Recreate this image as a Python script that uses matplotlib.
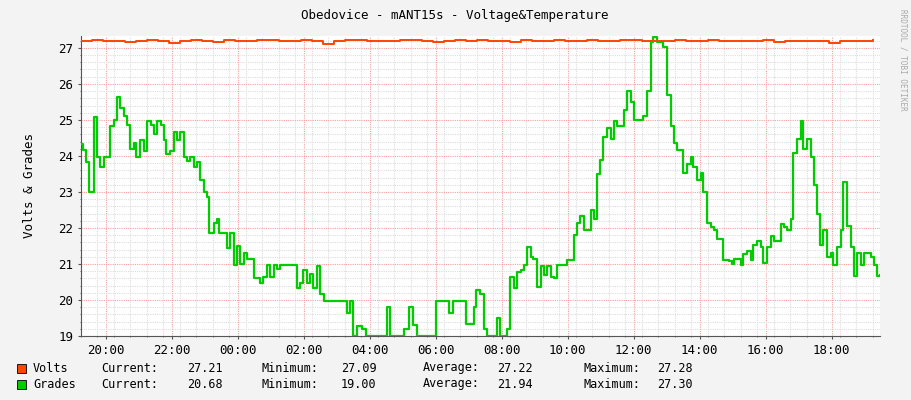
import matplotlib.pyplot as plt
from matplotlib.ticker import MultipleLocator, FixedLocator

# Minutes since 19:15 where each step starts, and the temperature ("Grades") value
grades_t = [0, 4, 9, 15, 24, 29, 35, 42, 53, 60, 65, 71, 78, 84, 89, 96, 100, 107, 115, 120,
            127, 133, 138, 145, 151, 155, 162, 169, 175, 180, 187, 193, 198, 205, 211, 216, 224,
            229, 233, 242, 247, 251, 265, 271, 278, 284, 289, 296, 302, 315, 325, 331, 338, 344,
            351, 356, 362, 393, 398, 404, 411, 416, 422, 429, 435, 442, 484, 489, 495, 502, 511,
            518, 556, 562, 587, 596, 604, 611, 645, 669, 676, 700, 714, 718, 725, 733, 738, 756,
            762, 774, 780, 787, 793, 800, 805, 811, 818, 822, 829, 836, 842, 847, 855, 860, 865,
            884, 889, 896, 902, 907, 915, 927, 933, 938, 944, 949, 956, 964, 969, 974, 987, 993,
            1000, 1005, 1022, 1029, 1036, 1040, 1047, 1058, 1065, 1073, 1078, 1084, 1094, 1102,
            1109, 1113, 1120, 1127, 1131, 1138, 1145, 1151, 1156, 1167, 1178, 1184, 1187, 1200,
            1204, 1211, 1218, 1222, 1229, 1236, 1240, 1247, 1254, 1260, 1273, 1278, 1284, 1291,
            1294, 1302, 1309, 1313, 1320, 1327, 1333, 1338, 1344, 1349, 1356, 1364, 1367, 1374,
            1382, 1385, 1393, 1400, 1405, 1411, 1418, 1424, 1436, 1442, 1447, 1453]
grades_v = [24.34, 24.17, 23.83, 23.0, 25.07, 23.98, 23.68, 23.97, 24.82, 25.0, 25.65, 25.32,
            25.1, 24.85, 24.2, 24.35, 23.98, 24.43, 24.15, 24.98, 24.85, 24.62, 24.98, 24.85,
            24.43, 24.06, 24.15, 24.66, 24.43, 24.66, 23.98, 23.86, 23.98, 23.7, 23.83, 23.32,
            23.0, 22.86, 21.85, 22.15, 22.26, 21.87, 21.43, 21.87, 20.97, 21.5, 21.0, 21.31,
            21.15, 20.6, 20.48, 20.64, 20.97, 20.64, 20.97, 20.87, 20.97, 20.32, 20.48, 20.82,
            20.48, 20.73, 20.32, 20.94, 20.18, 19.98, 19.65, 19.98, 19.0, 19.28, 19.2, 19.0,
            19.81, 19.0, 19.2, 19.8, 19.3, 19.0, 19.98, 19.65, 19.98, 19.33, 19.8, 20.29, 20.18,
            19.2, 19.0, 19.49, 19.0, 19.2, 20.64, 20.32, 20.78, 20.82, 20.97, 21.46, 21.2, 21.15,
            20.35, 20.94, 20.69, 20.94, 20.64, 20.6, 20.97, 21.12, 21.1, 21.8, 22.15, 22.32,
            21.95, 22.49, 22.26, 23.49, 23.89, 24.52, 24.78, 24.48, 24.98, 24.82, 25.28, 25.81,
            25.49, 25.0, 25.1, 25.81, 27.15, 27.3, 27.15, 27.03, 25.68, 24.82, 24.36, 24.17,
            23.52, 23.78, 23.98, 23.68, 23.32, 23.52, 23.0, 22.15, 22.04, 21.95, 21.68, 21.12,
            21.08, 21.0, 21.13, 20.97, 21.29, 21.37, 21.1, 21.52, 21.64, 21.46, 21.03, 21.48,
            21.77, 21.64, 22.12, 22.04, 21.95, 22.26, 24.08, 24.48, 24.98, 24.2, 24.48, 23.98,
            23.18, 22.38, 21.52, 21.93, 21.2, 21.31, 20.97, 21.46, 21.93, 23.27, 22.05, 21.48,
            20.67, 21.31, 20.97, 21.31, 21.2, 20.97, 20.67, 20.68]

# Voltage samples, one every 20 minutes from 19:15
volts_v = [27.2, 27.21, 27.18, 27.2, 27.15, 27.2, 27.22, 27.19, 27.13, 27.2, 27.21, 27.2,
           27.16, 27.22, 27.2, 27.19, 27.22, 27.21, 27.2, 27.18, 27.22, 27.2, 27.12, 27.2,
           27.21, 27.22, 27.2, 27.2, 27.18, 27.21, 27.22, 27.2, 27.17, 27.2, 27.21, 27.2,
           27.22, 27.19, 27.2, 27.16, 27.21, 27.2, 27.18, 27.22, 27.19, 27.2, 27.21, 27.2,
           27.2, 27.22, 27.21, 27.2, 27.18, 27.2, 27.21, 27.2, 27.18, 27.22, 27.2, 27.19,
           27.2, 27.2, 27.21, 27.17, 27.2, 27.18, 27.2, 27.2, 27.14, 27.2, 27.19, 27.2, 27.21]
volts_t = [i * 20 for i in range(len(volts_v))]

tick_labels = ["20:00", "22:00", "00:00", "02:00", "04:00", "06:00", "08:00",
               "10:00", "12:00", "14:00", "16:00", "18:00"]
tick_pos = [45 + 120 * i for i in range(len(tick_labels))]

legend_rows = [
    ("Volts", "#FF4500", "27.21", "27.09", "27.22", "27.28"),
    ("Grades", "#00CC00", "20.68", "19.00", "21.94", "27.30"),
]

mono = "DejaVu Sans Mono"
fs = 8.5
fig = plt.figure(figsize=(9.11, 4.0), dpi=100, facecolor="#F3F3F3")
ax = fig.add_axes([81 / 911, 64 / 400, 799 / 911, 300 / 400], facecolor="white")

ax.step(grades_t, grades_v, where="post", color="#00CC00", lw=1.6, zorder=3)
ax.step(volts_t, volts_v, where="post", color="#FF4500", lw=1.4, zorder=3)

ax.set_xlim(0, 1453)
ax.set_ylim(19, 27.33)
ax.xaxis.set_major_locator(FixedLocator(tick_pos))
ax.set_xticklabels(tick_labels)
ax.xaxis.set_minor_locator(MultipleLocator(30))
ax.yaxis.set_major_locator(MultipleLocator(1))
ax.yaxis.set_minor_locator(MultipleLocator(0.2))
ax.grid(True, which="minor", color="#DDDDDD", ls=(0, (1, 1)), lw=0.8)
ax.grid(True, which="major", color="#F5A0A0", ls=(0, (1, 1)), lw=0.8)
ax.set_axisbelow(True)
for s in ["top", "right"]:
    ax.spines[s].set_visible(False)
for s in ["left", "bottom"]:
    ax.spines[s].set_color("#555555")
ax.tick_params(which="both", length=2, colors="#555555", labelsize=fs + 0.5)
ax.tick_params(which="minor", length=1)
for lab in ax.get_xticklabels() + ax.get_yticklabels():
    lab.set_fontfamily(mono)
    lab.set_color("black")

ax.set_ylabel("Volts & Grades", fontfamily=mono, fontsize=fs + 0.5, labelpad=16)
fig.text(455 / 911, 1 - 15 / 400, "Obedovice - mANT15s - Voltage&Temperature",
         ha="center", va="center", fontfamily=mono, fontsize=fs + 0.5)
fig.text(903 / 911, 1 - 60 / 400, "RRDTOOL / TOBI OETIKER", rotation=270,
         ha="center", va="center", fontfamily=mono, fontsize=5.5, color="#AAAAAA")

cols = [(101, "Current:"), (262, "Minimum:"), (423, "Average:"), (584, "Maximum:")]
val_x = [187, 341, 497, 657]
for i, (name, col, *vals) in enumerate(legend_rows):
    y = 1 - (368 + 16 * i) / 400
    fig.patches.append(plt.Rectangle((17 / 911, y - 4.5 / 400), 9 / 911, 9 / 400,
                                     transform=fig.transFigure, facecolor=col,
                                     edgecolor="black", lw=0.6))
    fig.text(33 / 911, y, name, va="center", fontfamily=mono, fontsize=fs)
    for (x, lab), vx, v in zip(cols, val_x, vals):
        fig.text(x / 911, y, lab, va="center", fontfamily=mono, fontsize=fs)
        fig.text(vx / 911, y, v, va="center", fontfamily=mono, fontsize=fs)

fig.savefig("out.png", dpi=100, facecolor=fig.get_facecolor())
